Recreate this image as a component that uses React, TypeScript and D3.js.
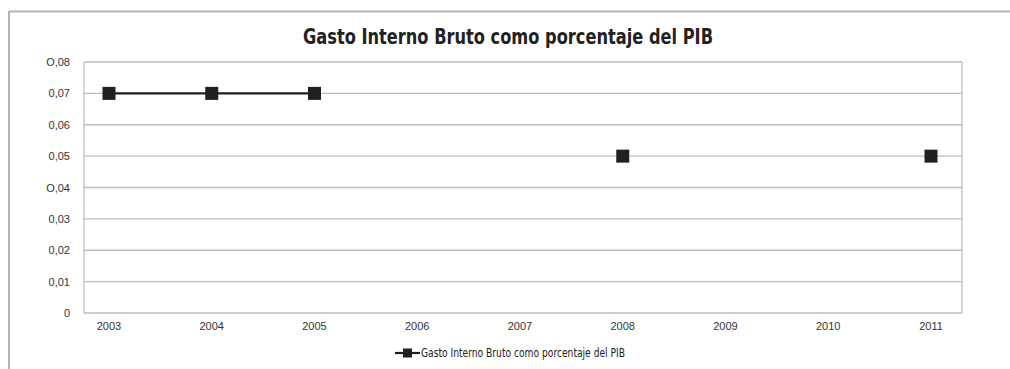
import { useEffect, useRef } from 'react'
import * as d3 from 'd3'

const years = ['2003', '2004', '2005', '2006', '2007', '2008', '2009', '2010', '2011']
const gastoPct: (number | null)[] = [0.07, 0.07, 0.07, null, null, 0.05, null, null, 0.05]
const yTicks = [0, 0.01, 0.02, 0.03, 0.04, 0.05, 0.06, 0.07, 0.08]
// the source writes a letter O on two of the labels
const yTickLabels = ['0', '0,01', '0,02', '0,03', 'O,04', '0,05', '0,06', '0,07', 'O,08']
const title = 'Gasto Interno Bruto como porcentaje del PIB'
const seriesName = 'Gasto Interno Bruto como porcentaje del PIB'

const width = 1010
const height = 369
const plot = { left: 84, right: 962, top: 62, bottom: 313 }
const condensed = '"DejaVu Sans Condensed", "Liberation Sans Narrow", sans-serif'

const App = () => {
  const svgRef = useRef<SVGSVGElement>(null)

  useEffect(() => {
    if (!svgRef.current) return
    const svg = d3.select(svgRef.current)
    svg.selectAll('*').remove()

    const x = d3.scalePoint<string>().domain(years).range([109, 931])
    const y = d3.scaleLinear().domain([0, 0.08]).range([plot.bottom, plot.top])

    // outer frame (top and left only visible)
    svg.append('line')
      .attr('x1', 9).attr('x2', width).attr('y1', 11.5).attr('y2', 11.5)
      .attr('stroke', '#b3b3b6').attr('stroke-width', 2)
    svg.append('line')
      .attr('x1', 9).attr('x2', 9).attr('y1', 11).attr('y2', height)
      .attr('stroke', '#b3b3b6').attr('stroke-width', 2)

    svg.append('text')
      .attr('x', 303).attr('y', 44)
      .attr('font-family', condensed)
      .attr('font-weight', 'bold')
      .attr('font-size', 21)
      .attr('textLength', 410)
      .attr('lengthAdjust', 'spacingAndGlyphs')
      .attr('fill', '#222')
      .text(title)

    // grid
    svg.append('g')
      .selectAll('line')
      .data(yTicks)
      .join('line')
      .attr('x1', plot.left).attr('x2', plot.right)
      .attr('y1', d => y(d)).attr('y2', d => y(d))
      .attr('stroke', '#bdbdbf').attr('stroke-width', 1.3)

    svg.append('g')
      .selectAll('line')
      .data([plot.left, plot.right])
      .join('line')
      .attr('x1', d => d).attr('x2', d => d)
      .attr('y1', plot.top).attr('y2', plot.bottom)
      .attr('stroke', '#bdbdbf').attr('stroke-width', 1.3)

    // y labels
    svg.append('g')
      .selectAll('text')
      .data(yTicks)
      .join('text')
      .attr('x', 70)
      .attr('y', d => y(d) + 4)
      .attr('text-anchor', 'end')
      .attr('font-family', '"Liberation Sans", Arial, sans-serif')
      .attr('font-size', 11)
      .attr('fill', '#333')
      .text((_, i) => yTickLabels[i])

    // x labels
    svg.append('g')
      .selectAll('text')
      .data(years)
      .join('text')
      .attr('x', d => x(d) ?? 0)
      .attr('y', 330)
      .attr('text-anchor', 'middle')
      .attr('font-family', '"Liberation Sans", Arial, sans-serif')
      .attr('font-size', 11)
      .attr('fill', '#333')
      .text(d => d)

    const pts = years.map((yr, i) => ({ yr, v: gastoPct[i] }))
    const line = d3.line<{ yr: string; v: number | null }>()
      .defined(d => d.v !== null)
      .x(d => x(d.yr) ?? 0)
      .y(d => y(d.v as number))

    svg.append('path')
      .datum(pts)
      .attr('fill', 'none')
      .attr('stroke', '#1f1f1f')
      .attr('stroke-width', 2.2)
      .attr('d', line)

    const m = 13
    svg.append('g')
      .selectAll('rect')
      .data(pts.filter(d => d.v !== null))
      .join('rect')
      .attr('x', d => (x(d.yr) ?? 0) - m / 2)
      .attr('y', d => y(d.v as number) - m / 2)
      .attr('width', m).attr('height', m)
      .attr('fill', '#231f20')

    // legend
    const lg = svg.append('g')
    lg.append('line')
      .attr('x1', 395).attr('x2', 420).attr('y1', 353).attr('y2', 353)
      .attr('stroke', '#1f1f1f').attr('stroke-width', 2.2)
    lg.append('rect')
      .attr('x', 403).attr('y', 348.5).attr('width', 9).attr('height', 9)
      .attr('fill', '#231f20')
    lg.append('text')
      .attr('x', 421).attr('y', 357)
      .attr('font-family', condensed)
      .attr('font-size', 11.5)
      .attr('textLength', 204)
      .attr('lengthAdjust', 'spacingAndGlyphs')
      .attr('fill', '#222')
      .text(seriesName)
  }, [])

  return (
    <svg
      ref={svgRef}
      width={width}
      height={height}
      style={{ position: 'absolute', left: 0, top: 0, background: '#fff' }}
    />
  )
}

export default App
